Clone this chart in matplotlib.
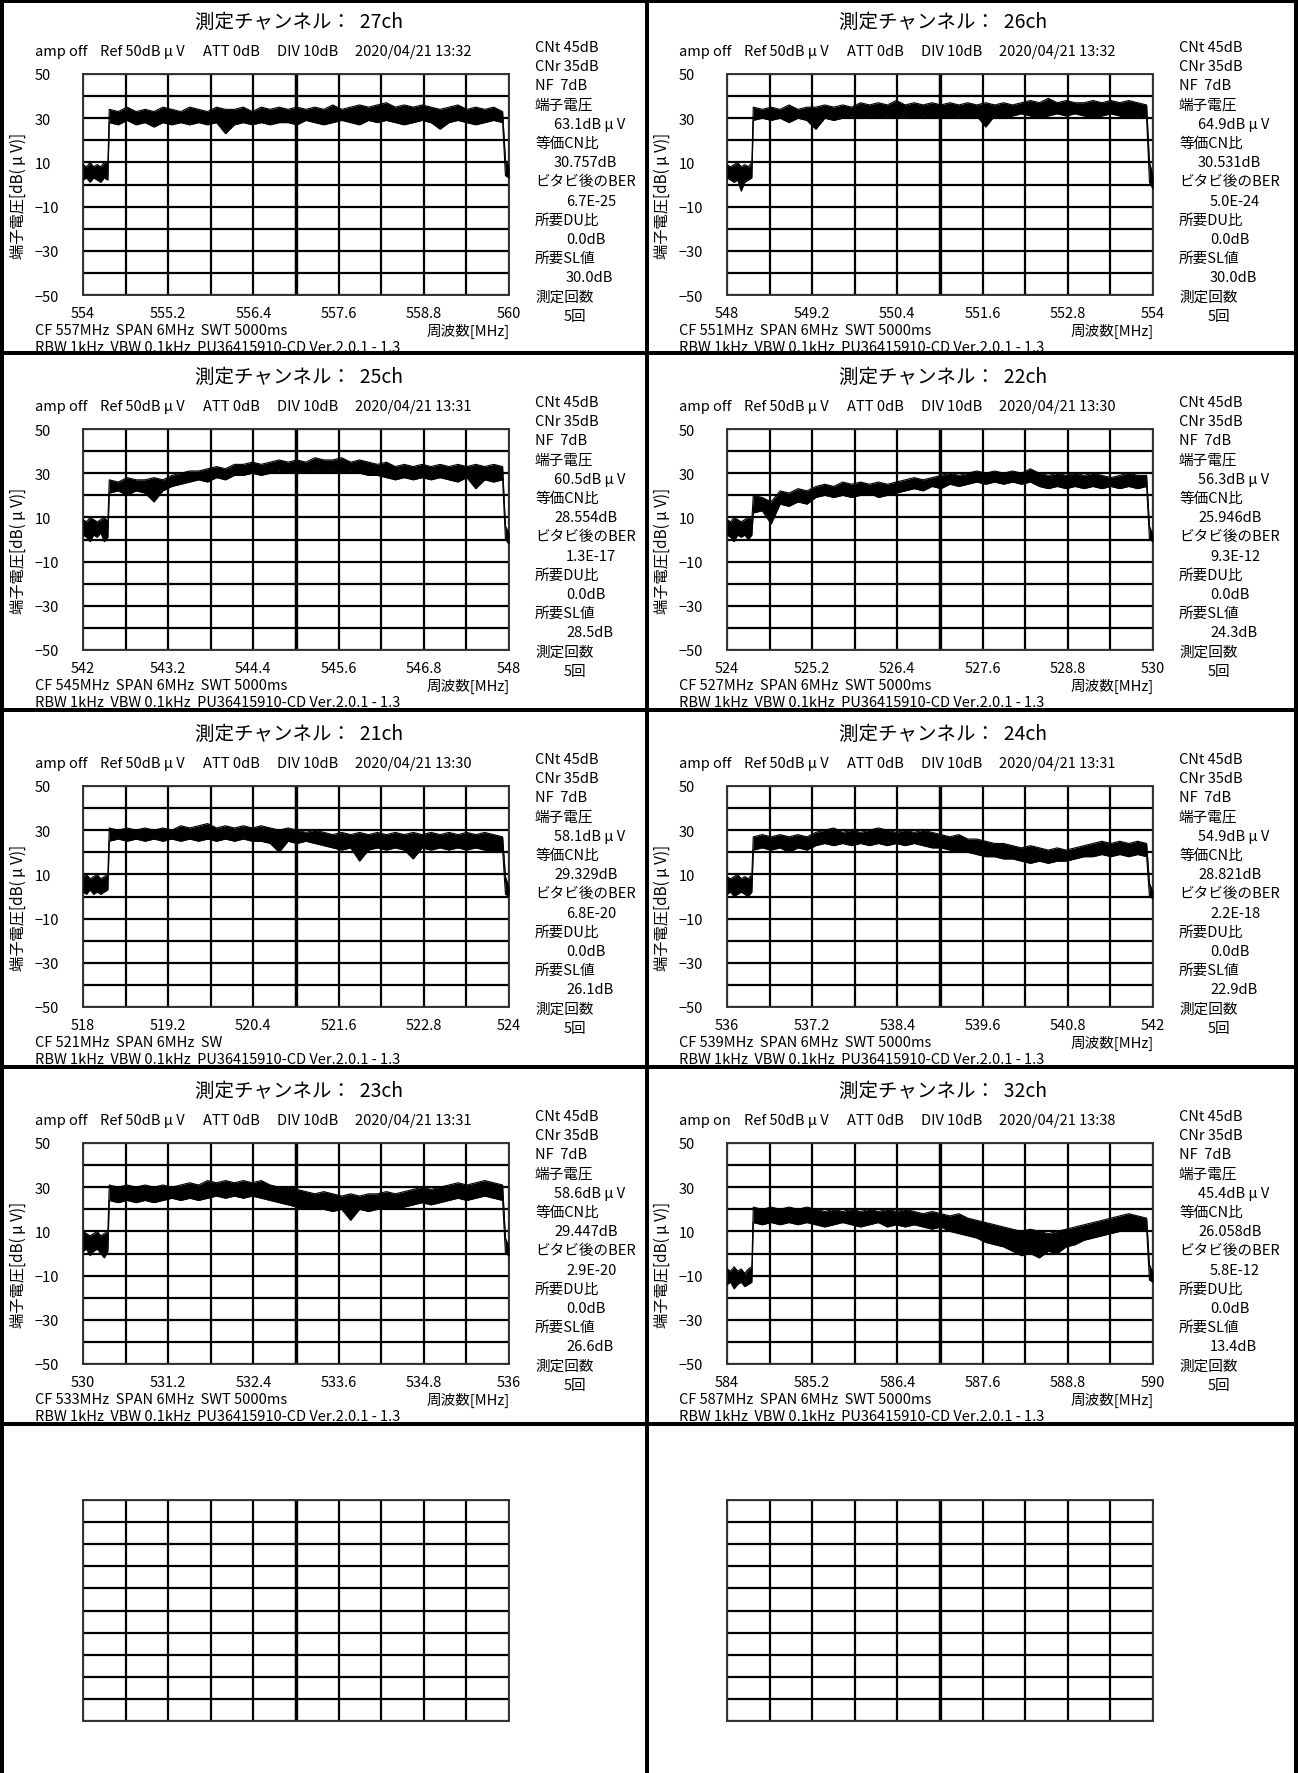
import numpy as np
import matplotlib.pyplot as plt
from matplotlib.patches import Rectangle

plt.rcParams['font.family'] = ['Noto Sans CJK JP', 'DejaVu Sans']

W, H = 1298, 1774

# sheet order: row by row, left then right
channels = ['27ch', '26ch', '25ch', '22ch', '21ch', '24ch', '23ch', '32ch']
start_freq = [554, 548, 542, 524, 518, 536, 530, 584]
amp_mode = ['off', 'off', 'off', 'off', 'off', 'off', 'off', 'on']
meas_time = ['13:32', '13:32', '13:31', '13:30', '13:30', '13:31', '13:31', '13:38']
cf_lines = ['CF 557MHz  SPAN 6MHz  SWT 5000ms', 'CF 551MHz  SPAN 6MHz  SWT 5000ms',
            'CF 545MHz  SPAN 6MHz  SWT 5000ms', 'CF 527MHz  SPAN 6MHz  SWT 5000ms',
            'CF 521MHz  SPAN 6MHz  SW', 'CF 539MHz  SPAN 6MHz  SWT 5000ms',
            'CF 533MHz  SPAN 6MHz  SWT 5000ms', 'CF 587MHz  SPAN 6MHz  SWT 5000ms']
show_freq_label = [True, True, True, True, False, True, True, True]
term_voltage = ['63.1', '64.9', '60.5', '56.3', '58.1', '54.9', '58.6', '45.4']
cn_ratio = ['30.757', '30.531', '28.554', '25.946', '29.329', '28.821', '29.447', '26.058']
ber = ['6.7E-25', '5.0E-24', '1.3E-17', '9.3E-12', '6.8E-20', '2.2E-18', '2.9E-20', '5.8E-12']
du_ratio = ['0.0', '0.0', '0.0', '0.0', '0.0', '0.0', '0.0', '0.0']
sl_value = ['30.0', '30.0', '28.5', '24.3', '26.1', '22.9', '26.6', '13.4']

# trace envelopes (dBuV): 8 floor points, 45 in-band points, 2 edge points
FLOOR_X = [0.0, 0.05, 0.10, 0.15, 0.20, 0.25, 0.30, 0.35]
TAIL_X = [5.95, 6.0]

ch27_hi = [9, 8, 10, 8, 9, 8, 10, 9,
           34, 33, 35, 33, 34, 33, 35, 34, 33, 35, 34, 33, 35, 34, 34, 35, 33, 35, 34, 35,
           34, 35, 34, 35, 34, 36, 34, 35, 36, 35, 36, 37, 35, 36, 35, 36, 35, 34, 35, 36,
           34, 35, 34, 35, 33,
           11, 8]
ch27_lo = [2, 3, 1, 3, 2, 1, 3, 2,
           28, 27, 29, 27, 28, 26, 28, 27, 28, 27, 28, 27, 28, 23, 27, 28, 27, 28, 27, 28,
           28, 27, 29, 28, 27, 28, 29, 28, 27, 29, 28, 29, 28, 27, 28, 29, 28, 25, 28, 29,
           28, 27, 28, 29, 28,
           4, 3]
ch26_hi = [9, 8, 9, 10, 8, 9, 8, 10,
           35, 34, 35, 34, 36, 34, 35, 35, 36, 35, 36, 35, 37, 36, 37, 36, 38, 36, 37, 36,
           37, 36, 37, 36, 37, 36, 37, 36, 37, 36, 37, 38, 37, 39, 37, 38, 37, 37, 38, 37,
           38, 37, 38, 37, 36,
           10, 4]
ch26_lo = [3, 2, 1, 2, -3, 1, 2, 3,
           29, 30, 29, 30, 28, 30, 29, 25, 30, 29, 30, 31, 30, 31, 30, 31, 30, 31, 30, 31,
           30, 31, 30, 31, 30, 31, 26, 31, 30, 31, 32, 31, 30, 31, 32, 31, 32, 31, 30, 31,
           32, 31, 30, 31, 30,
           1, -2]
ch25_hi = [9, 8, 10, 9, 8, 9, 10, 8,
           27, 26, 28, 27, 27, 28, 27, 29, 30, 31, 31, 32, 33, 32, 34, 34, 35, 34, 35, 36,
           35, 36, 35, 37, 36, 36, 37, 35, 36, 35, 34, 35, 33, 34, 33, 34, 33, 34, 33, 34,
           33, 34, 33, 34, 33,
           6, 3]
ch25_lo = [2, 1, -1, 2, 1, 3, -1, 1,
           21, 22, 20, 22, 21, 17, 22, 24, 25, 26, 27, 26, 28, 27, 29, 29, 30, 29, 30, 31,
           30, 31, 30, 31, 30, 31, 30, 31, 30, 29, 29, 28, 27, 28, 27, 28, 27, 28, 27, 26,
           28, 23, 27, 26, 27,
           0, -2]
ch22_hi = [9, 8, 10, 9, 8, 9, 10, 9,
           20, 19, 17, 22, 21, 23, 22, 24, 25, 24, 26, 25, 26, 25, 26, 25, 26, 27, 28, 27,
           28, 29, 30, 29, 30, 31, 30, 31, 30, 31, 30, 32, 30, 29, 30, 29, 30, 29, 30, 29,
           28, 29, 30, 29, 29,
           6, 2]
ch22_lo = [2, 1, -1, 2, 1, 2, 0, 2,
           12, 13, 7, 16, 15, 17, 16, 19, 20, 19, 20, 19, 20, 21, 19, 20, 21, 22, 23, 22,
           24, 23, 25, 24, 25, 26, 25, 26, 25, 26, 25, 26, 24, 23, 24, 23, 24, 23, 24, 23,
           24, 23, 24, 23, 24,
           0, -1]
ch21_hi = [9, 10, 8, 9, 10, 8, 9, 10,
           31, 30, 31, 30, 31, 30, 31, 30, 32, 31, 32, 33, 31, 32, 31, 32, 31, 32, 31, 30,
           31, 30, 29, 30, 29, 28, 29, 28, 29, 28, 29, 28, 29, 28, 29, 28, 29, 28, 29, 28,
           29, 28, 29, 28, 27,
           9, 4]
ch21_lo = [2, 1, 3, 1, 2, 1, 2, 3,
           25, 26, 25, 26, 25, 26, 25, 26, 25, 26, 25, 26, 25, 26, 25, 26, 25, 25, 24, 20,
           25, 24, 25, 24, 23, 22, 21, 22, 16, 21, 22, 21, 22, 21, 17, 22, 21, 22, 21, 22,
           21, 22, 21, 20, 21,
           1, 0]
ch24_hi = [9, 8, 9, 10, 8, 9, 8, 10,
           27, 28, 27, 28, 27, 28, 27, 29, 30, 31, 29, 30, 29, 30, 31, 30, 29, 30, 29, 30,
           29, 28, 27, 28, 26, 26, 25, 24, 24, 23, 22, 23, 22, 21, 22, 21, 22, 23, 24, 25,
           24, 25, 24, 25, 24,
           6, 2]
ch24_lo = [1, 2, 0, 1, 2, 1, 0, 2,
           21, 22, 21, 22, 20, 22, 21, 23, 24, 23, 24, 23, 24, 23, 24, 23, 24, 23, 24, 23,
           22, 22, 21, 20, 20, 19, 18, 18, 17, 17, 16, 15, 16, 15, 16, 16, 17, 18, 18, 19,
           18, 19, 18, 19, 18,
           0, -1]
ch23_hi = [10, 9, 8, 9, 10, 8, 9, 10,
           31, 30, 31, 30, 31, 30, 31, 30, 31, 32, 31, 33, 32, 33, 32, 33, 32, 33, 31, 30,
           30, 29, 28, 27, 28, 27, 26, 27, 26, 27, 27, 28, 27, 28, 29, 30, 29, 30, 31, 32,
           31, 32, 33, 32, 31,
           7, 3]
ch23_lo = [1, 2, -1, 1, 2, 0, -2, 1,
           24, 23, 24, 23, 24, 23, 24, 25, 24, 25, 24, 25, 26, 25, 26, 25, 26, 25, 24, 23,
           22, 21, 20, 21, 20, 19, 20, 15, 20, 19, 20, 21, 20, 21, 22, 23, 22, 23, 24, 25,
           24, 25, 26, 25, 24,
           0, -1]
ch32_hi = [-7, -8, -6, -8, -7, -9, -7, -6,
           21, 20, 21, 20, 21, 20, 21, 20, 19, 20, 19, 20, 19, 20, 19, 20, 19, 20, 19, 18,
           19, 18, 17, 18, 16, 15, 14, 13, 12, 11, 10, 11, 10, 9, 10, 11, 12, 13, 14, 15,
           16, 17, 18, 17, 16,
           -5, -9]
ch32_lo = [-14, -13, -16, -14, -13, -15, -14, -13,
           14, 13, 14, 13, 14, 13, 14, 13, 12, 13, 14, 13, 12, 13, 14, 12, 13, 12, 13, 12,
           11, 12, 10, 9, 8, 7, 5, 4, 3, 1, -1, 0, -2, 1, 0, 3, 4, 6, 7, 8,
           9, 10, 11, 10, 11,
           -12, -13]

traces_hi = [ch27_hi, ch26_hi, ch25_hi, ch22_hi, ch21_hi, ch24_hi, ch23_hi, ch32_hi]
traces_lo = [ch27_lo, ch26_lo, ch25_lo, ch22_lo, ch21_lo, ch24_lo, ch23_lo, ch32_lo]

ytick_vals = [50, 30, 10, -10, -30, -50]
ytick_labels = ['50', '30', '10', '\u221210', '\u221230', '\u221250']

COL_X = [0, 644]
ROW_Y = [0, 355, 712, 1069, 1426]
SMALL = 10.5
MU = ' \u03bc '


def fx(x):
    return x / W


def fy(y):
    return 1 - y / H


fig = plt.figure(figsize=(W / 100, H / 100), dpi=100)


def txt(x, y, s, ha='left', size=SMALL, **kw):
    fig.text(fx(x), fy(y), s, ha=ha, va='center', fontsize=size, **kw)


def grid_axes(px, py, f0=0):
    ax = fig.add_axes([fx(px + 83), fy(py + 296), 426 / W, 221 / H])
    ax.set_xlim(f0, f0 + 6)
    ax.set_ylim(-50, 50)
    ax.set_xticks([f0 + 1.2 * k for k in range(6)])
    ax.set_xticks([f0 + 0.6 + 1.2 * k for k in range(5)], minor=True)
    ax.set_yticks(ytick_vals)
    ax.set_yticks([40, 20, 0, -20, -40], minor=True)
    ax.grid(which='both', color='black', lw=1.6, zorder=1)
    ax.axvline(f0 + 3, color='black', lw=2.4, zorder=1)
    ax.tick_params(which='both', length=0)
    for s in ax.spines.values():
        s.set_linewidth(1.4)
        s.set_color('#333333')
    ax.set_axisbelow(True)
    return ax


for i, ch in enumerate(channels):
    r, c = divmod(i, 2)
    px, py = COL_X[c], ROW_Y[r]
    f0 = start_freq[i]

    ax = grid_axes(px, py, f0)
    hi = np.array(traces_hi[i], dtype=float)
    lo = np.array(traces_lo[i], dtype=float)
    n_sig = len(hi) - len(FLOOR_X) - len(TAIL_X)
    x = f0 + np.concatenate([FLOOR_X, np.linspace(0.37, 5.91, n_sig), TAIL_X])
    ax.fill_between(x, lo, hi, color='black', lw=0, zorder=3)
    ax.plot(x, hi, color='black', lw=0.8, zorder=3)
    ax.plot(x, lo, color='black', lw=0.8, zorder=3)

    ax.set_xticklabels([f'{f0 + 1.2 * k:g}' for k in range(6)], fontsize=SMALL)
    ax.tick_params(axis='x', pad=8)
    ax.set_yticklabels(ytick_labels, fontsize=SMALL)
    for lab in ax.get_yticklabels():
        lab.set_ha('left')
    ax.tick_params(axis='y', pad=34.6)

    txt(px + 299, py + 22, f'測定チャンネル：  {ch}', ha='center', size=14)
    txt(px + 35, py + 52, f'amp {amp_mode[i]}')
    txt(px + 100, py + 52, f'Ref 50dB{MU}V')
    txt(px + 203, py + 52, 'ATT 0dB')
    txt(px + 277, py + 52, 'DIV 10dB')
    txt(px + 355, py + 52, f'2020/04/21 {meas_time[i]}')
    txt(px + 18, py + 196, f'端子電圧[dB({MU}V)]', ha='center', size=11, rotation=90)

    txt(px + 35, py + 331, cf_lines[i])
    if show_freq_label[i]:
        txt(px + 510, py + 331, '周波数[MHz]', ha='right')
    txt(px + 35, py + 348, 'RBW 1kHz  VBW 0.1kHz  PU36415910-CD Ver.2.0.1 - 1.3')

    side = [('CNt 45dB', 535), ('CNr 35dB', 535), ('NF  7dB', 535),
            ('端子電圧', 535), (f'{term_voltage[i]}dB{MU}V', 554),
            ('等価CN比', 535), (f'{cn_ratio[i]}dB', 554),
            ('ビタビ後のBER', 535), (ber[i], 566),
            ('所要DU比', 535), (f'{du_ratio[i]}dB', 566),
            ('所要SL値', 535), (f'{sl_value[i]}dB', 566),
            ('測定回数', 535), ('5回', 564)]
    for k, (s, xx) in enumerate(side):
        txt(px + xx, py + 48 + 19.2 * k, s)

# empty grids on the last row
for c in range(2):
    ax = grid_axes(COL_X[c], ROW_Y[4])
    ax.set_xticklabels([])
    ax.set_yticklabels([])


# frame lines
def bar(x, y, w, h):
    fig.add_artist(Rectangle((fx(x), fy(y + h)), w / W, h / H,
                             transform=fig.transFigure, color='black', lw=0))


bar(0, 0, 4, H)
bar(0, 0, W, 4)
bar(W - 4, 0, 4, H)
bar(645, 0, 4, H)
for y in ROW_Y[1:]:
    bar(0, y - 3, W, 4)

fig.savefig('out.png', dpi=100, facecolor='white')
